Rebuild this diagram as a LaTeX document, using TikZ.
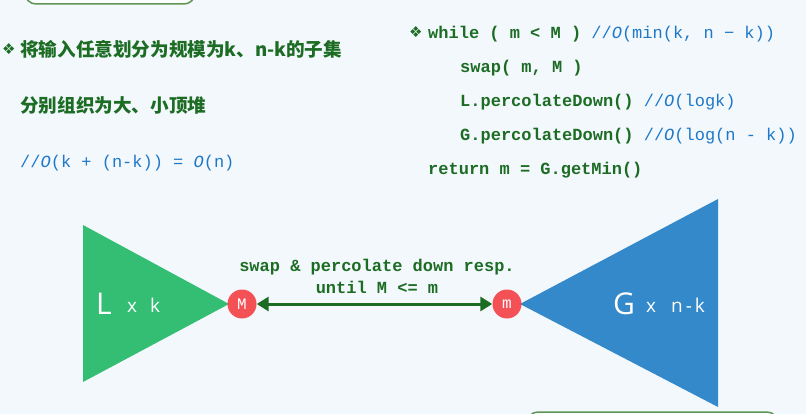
\documentclass[tikz,border=0pt]{standalone}
\usepackage{fontspec}
\setmonofont{Liberation Mono}
\setsansfont{Open Sans}
\newfontfamily\cjk{Noto Sans CJK SC}
\newfontfamily\symb{DejaVu Sans}
\newfontfamily\heapfont{Open Sans}
\usetikzlibrary{arrows.meta}
\definecolor{bgcol}{RGB}{243,248,252}
\definecolor{codegreen}{RGB}{28,108,36}
\definecolor{cmtblue}{RGB}{30,120,200}
\definecolor{heapL}{RGB}{52,190,116}
\definecolor{heapG}{RGB}{51,137,201}
\definecolor{rootred}{RGB}{245,40,45}
\definecolor{boxgreen}{RGB}{95,150,85}
\tikzset{
  code/.style={inner sep=0pt, anchor=base west, text=codegreen, font=\ttfamily\bfseries\fontsize{17}{20}\selectfont},
  cn/.style={inner sep=0pt, anchor=base west, text=codegreen, font=\cjk\bfseries\fontsize{18.6}{22}\selectfont},
  bullet/.style={inner sep=0pt, anchor=base west, text=codegreen, font=\symb\fontsize{15}{17}\selectfont},
  root/.style={circle, minimum size=29pt, inner sep=0pt, fill=rootred, fill opacity=0.8, text opacity=1, text=white, font=\ttfamily\fontsize{16}{18}\selectfont},
  heapname/.style={inner sep=0pt, anchor=base west, text=white, font=\heapfont\fontsize{30}{32}\selectfont},
  heapsize/.style={inner sep=0pt, anchor=base west, text=white, font=\heapfont\fontsize{19}{21}\selectfont},
  frame/.style={draw=boxgreen, line width=1.5pt, rounded corners=11pt, fill=white!60!bgcol}
}
\newcommand{\cmt}[1]{{\color{cmtblue}\mdseries #1}}
\begin{document}
\begin{tikzpicture}[x=1pt, y=-1pt]
			%%%%% START %%%%%
			\useasboundingbox[fill=bgcol] (0,0) rectangle (806,414);
			
			\draw[frame] (25,-25) rectangle (195,4);
			\draw[frame] (527,412) rectangle (778,440);
			
			\node[bullet] (b1) at (2,55) {❖};
			\node[cn] (t1) at (20,57) {将输入任意划分为规模为k、n-k的子集};
			\node[cn] (t2) at (20,113) {分别组织为大、小顶堆};
			\node[code] (t3) at (20,168) {\cmt{//\textit{O}(k + (n-k)) = \textit{O}(n)}};
			
			\node[bullet] (b2) at (409,38) {❖};
			\node[code] (w1) at (428,39) {while ( m < M ) \cmt{//\textit{O}(min(k, n − k))}};
			\node[code] (w2) at (460,73) {swap( m, M )};
			\node[code] (w3) at (460,107) {L.percolateDown() \cmt{//\textit{O}(logk)}};
			\node[code] (w4) at (460,141) {G.percolateDown() \cmt{//\textit{O}(log(n - k))}};
			\node[code] (w5) at (428,175) {return m = G.getMin()};
			
			\fill[heapL] (83,225) -- (229,304) -- (83,382) -- cycle;
			\fill[heapG] (718,199) -- (520,304) -- (718,407) -- cycle;
			
			\node[heapname] (L) at (96,314) {L};
			\node[heapsize] (Lk) at (127,312) {x\hspace{13pt}k};
			\node[heapname] (G) at (613,314) {G};
			\node[heapsize] (Gk) at (646,312) {x\hspace{15pt}n\hspace{3pt}-\hspace{3pt}k};
			
			\node[root] (M) at (242,304) {M};
			\node[root] (m) at (507,304) {m};
			
			\draw[codegreen, line width=3pt, {Triangle[length=12pt,width=14pt]}-{Triangle[length=12pt,width=14pt]}] (M) -- (m);
			\node[code, anchor=base] (sw) at (377,272) {swap \& percolate down resp.};
			\node[code, anchor=base] (ut) at (377,294) {until M <= m};
			
			%%%%% END %%%%%
\end{tikzpicture}
\end{document}
